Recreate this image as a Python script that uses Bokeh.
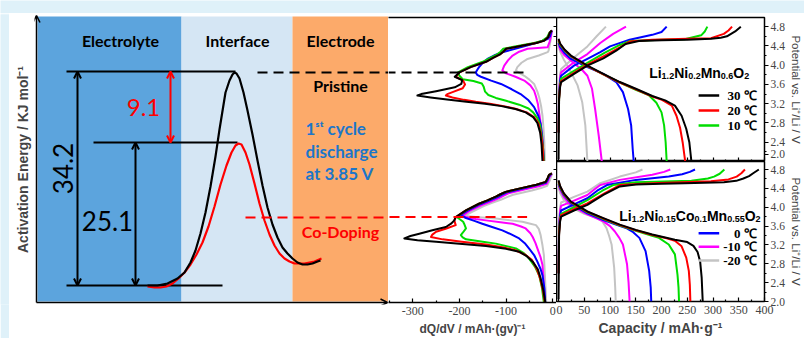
import math
from bokeh.plotting import figure
from bokeh.models import (Range1d, LinearAxis, FixedTicker, Arrow, OpenHead,
                          CustomJSTickFormatter, PrintfTickFormatter)
from bokeh.layouts import row, column
from bokeh.core.properties import value
from bokeh.embed import file_html
from bokeh.resources import INLINE

# ============================ DATA ============================
temps = ["30 ℃", "20 ℃", "10 ℃", "0 ℃", "-10 ℃", "-20 ℃"]
colors = ["#000000", "#ff0000", "#00dd00", "#0000ff", "#ff00ff", "#c4c4c4"]

# ---- schematic (diagram units: reaction coordinate u, drawn energy v) ----
band_names = ["Electrolyte", "Interface", "Electrode"]
band_left = [3, 147, 258]
band_right = [147, 258, 354]
band_colors = ["#5ca4dd", "#d5e6f4", "#fcaa6a"]
band_label_u = [86, 203, 306]

level_u0 = [32, 32, 59]
level_u1 = [188, 201, 203]
level_v = [19, 233, 162]          # initial state, pristine TS, co-doped TS

barrier_labels = ["34.2", "25.1", "9.1"]
barrier_u = [43, 101, 136]
barrier_v0 = [19, 19, 162]
barrier_v1 = [233, 162, 233]

ts_black_u = [113, 123, 133, 143, 150, 156, 161, 166, 171, 176, 181, 185, 191, 195, 198, 200, 202,
              205, 209, 213, 218, 223, 228, 233, 238, 243, 248, 253, 258, 263, 268, 273, 278, 283, 286]
ts_black_v = [19, 19, 21, 26, 32, 42, 54, 71, 92, 118, 148, 175, 212, 224, 230, 232, 231,
              226, 212, 194, 170, 144, 119, 97, 80, 67, 57, 51, 46, 42, 40, 40, 41, 43, 44]
ts_red_u = [113, 120, 126, 132, 138, 144, 150, 156, 162, 168, 174, 180, 186, 192, 197, 201, 204,
            207, 211, 215, 220, 225, 230, 235, 240, 245, 250, 255, 260, 265, 270, 275, 280, 287]
ts_red_v = [18, 17, 17, 18, 21, 26, 32, 40, 50, 62, 78, 98, 120, 139, 152, 159, 161,
            160, 152, 140, 121, 101, 84, 70, 59, 51, 46, 43, 41, 41, 41, 42, 43, 46]

# ---- dQ/dV, 1st cycle discharge (potential V, dQ/dV) : 30,20,10,0,-10,-20 C ----
prist_dq_V = [
    [4.72, 4.68, 4.58, 4.51, 4.46, 4.42, 4.34, 4.28, 4.23, 4.15, 4.07, 3.96, 3.85, 3.76, 3.69, 3.61, 3.54,
     3.46, 3.40, 3.37, 3.33, 3.28, 3.24, 3.20, 3.15, 3.09, 3.02, 2.92, 2.80, 2.60, 2.35, 2.00],
    [4.72, 4.68, 4.58, 4.51, 4.46, 4.42, 4.34, 4.28, 4.23, 4.15, 4.07, 3.96, 3.85, 3.76, 3.68, 3.60, 3.52,
     3.45, 3.40, 3.37, 3.33, 3.28, 3.24, 3.20, 3.15, 3.09, 3.02, 2.92, 2.80, 2.60, 2.35, 2.00],
    [4.72, 4.68, 4.58, 4.51, 4.46, 4.42, 4.34, 4.28, 4.23, 4.15, 4.07, 3.96, 3.85, 3.78, 3.71, 3.67, 3.62,
     3.55, 3.45, 3.38, 3.32, 3.26, 3.18, 3.10, 3.02, 2.90, 2.75, 2.55, 2.30, 2.00],
    [4.72, 4.66, 4.60, 4.54, 4.45, 4.37, 4.27, 4.20, 4.13, 4.05, 3.96, 3.90, 3.85, 3.80, 3.76, 3.68, 3.61,
     3.50, 3.40, 3.27, 3.13, 2.95, 2.78, 2.55, 2.30, 2.00],
    [4.72, 4.60, 4.48, 4.40, 4.37, 4.34, 4.28, 4.20, 4.10, 3.99, 3.89, 3.83, 3.76, 3.68, 3.58, 3.47, 3.35,
     3.20, 3.00, 2.80, 2.55, 2.30, 2.00],
    [4.72, 4.55, 4.40, 4.30, 4.27, 4.20, 4.13, 4.05, 3.96, 3.89, 3.84, 3.78, 3.70, 3.61, 3.45, 3.33, 3.15,
     2.95, 2.70, 2.40, 2.00],
]
prist_dq = [
    [-2, -6, -10, -18, -35, -58, -100, -106, -112, -128, -143, -176, -200, -210, -194, -196, -210,
     -250, -282, -290, -262, -222, -185, -145, -110, -80, -58, -42, -33, -27, -24, -22],
    [-2, -6, -10, -18, -35, -58, -100, -106, -112, -128, -143, -176, -200, -208, -192, -188, -193,
     -212, -226, -229, -215, -190, -165, -135, -105, -78, -56, -40, -31, -26, -22, -20],
    [-2, -7, -12, -22, -40, -64, -106, -112, -118, -134, -150, -182, -203, -200, -193, -170, -152,
     -148, -145, -138, -122, -100, -72, -52, -42, -33, -27, -24, -21, -19],
    [-2, -4, -6, -11, -40, -69, -108, -126, -140, -150, -158, -162, -165, -162, -154, -132, -111,
     -88, -69, -52, -40, -31, -26, -23, -21, -19],
    [-2, -4, -7, -10, -11, -54, -72, -86, -96, -104, -108, -100, -80, -61, -48, -40, -36,
     -32, -29, -26, -23, -21, -19],
    [-2, -4, -7, -9, -11, -30, -54, -67, -76, -79, -72, -61, -50, -40, -33, -29, -25,
     -22, -20, -18, -17],
]
codop_dq_V = [
    [4.72, 4.69, 4.62, 4.54, 4.48, 4.43, 4.33, 4.28, 4.23, 4.15, 4.08, 3.94, 3.80, 3.73, 3.66, 3.59, 3.52,
     3.45, 3.40, 3.35, 3.31, 3.28, 3.24, 3.19, 3.13, 3.07, 2.97, 2.86, 2.70, 2.51, 2.25, 2.00],
    [4.72, 4.69, 4.62, 4.54, 4.48, 4.43, 4.33, 4.28, 4.23, 4.15, 4.08, 3.94, 3.80, 3.73, 3.63, 3.56, 3.49,
     3.43, 3.38, 3.33, 3.28, 3.22, 3.16, 3.10, 3.00, 2.90, 2.70, 2.50, 2.25, 2.00],
    [4.72, 4.69, 4.62, 4.54, 4.48, 4.43, 4.33, 4.28, 4.23, 4.15, 4.08, 3.94, 3.80, 3.76, 3.70, 3.66, 3.56,
     3.48, 3.42, 3.37, 3.33, 3.28, 3.24, 3.14, 3.04, 2.93, 2.75, 2.57, 2.30, 2.00],
    [4.72, 4.65, 4.58, 4.52, 4.47, 4.42, 4.32, 4.27, 4.22, 4.14, 4.07, 3.93, 3.84, 3.78, 3.72, 3.66, 3.59,
     3.52, 3.44, 3.35, 3.25, 3.14, 3.00, 2.86, 2.70, 2.57, 2.30, 2.00],
    [4.72, 4.62, 4.56, 4.50, 4.45, 4.40, 4.30, 4.25, 4.20, 4.12, 4.05, 3.92, 3.83, 3.80, 3.76, 3.73, 3.69,
     3.66, 3.60, 3.56, 3.46, 3.38, 3.25, 3.14, 2.95, 2.79, 2.50, 2.20, 2.00],
    [4.70, 4.58, 4.52, 4.46, 4.41, 4.36, 4.27, 4.22, 4.17, 4.10, 4.03, 3.90, 3.83, 3.80, 3.77, 3.73, 3.70,
     3.66, 3.63, 3.55, 3.42, 3.20, 3.00, 2.60, 2.20, 2.00],
]
codop_dq = [
    [-2, -8, -11, -15, -35, -58, -101, -112, -122, -140, -158, -186, -208, -211, -218, -229, -258,
     -286, -305, -318, -290, -250, -200, -143, -100, -72, -55, -43, -32, -26, -20, -16],
    [-2, -8, -11, -15, -35, -58, -101, -112, -122, -140, -158, -186, -208, -211, -208, -228, -250,
     -258, -261, -236, -195, -143, -105, -80, -58, -45, -34, -27, -21, -17],
    [-2, -8, -11, -15, -35, -58, -101, -112, -122, -140, -158, -186, -206, -200, -192, -190, -186,
     -192, -197, -193, -186, -150, -122, -79, -62, -51, -38, -29, -23, -19],
    [-2, -8, -11, -15, -35, -55, -98, -108, -118, -137, -155, -183, -198, -186, -168, -151, -130,
     -108, -90, -72, -60, -51, -40, -33, -26, -22, -18, -16],
    [-2, -8, -10, -13, -30, -52, -95, -105, -115, -134, -152, -180, -193, -186, -165, -143, -112,
     -86, -68, -58, -48, -43, -37, -33, -26, -22, -20, -18, -17],
    [-2, -6, -9, -12, -25, -45, -85, -98, -110, -130, -148, -175, -188, -165, -122, -90, -65,
     -48, -36, -30, -26, -22, -19, -17, -15, -14],
]

# ---- charge / discharge profiles (capacity mAh/g, potential V) ----
prist_dis_cap = [
    [0, 3, 12, 24, 56, 87, 119, 150, 182, 207, 226, 239, 248, 254, 258],
    [0, 3, 12, 24, 56, 87, 119, 150, 182, 201, 220, 229, 236, 241, 246],
    [0, 3, 12, 24, 56, 87, 119, 150, 175, 190, 200, 205, 208, 210],
    [0, 3, 12, 24, 56, 87, 112, 125, 135, 141, 144, 146],
    [0, 3, 12, 30, 45, 56, 65, 71, 78, 84],
    [0, 3, 10, 21, 37, 46, 52, 56],
]
prist_dis_V = [
    [4.55, 4.45, 4.32, 4.20, 3.99, 3.82, 3.65, 3.51, 3.36, 3.27, 3.16, 2.95, 2.68, 2.40, 2.00],
    [4.53, 4.44, 4.31, 4.19, 3.98, 3.81, 3.64, 3.50, 3.35, 3.28, 3.16, 2.95, 2.70, 2.40, 2.00],
    [4.50, 4.42, 4.30, 4.18, 3.98, 3.81, 3.64, 3.49, 3.38, 3.22, 3.02, 2.75, 2.40, 2.00],
    [4.47, 4.38, 4.25, 4.13, 3.96, 3.82, 3.65, 3.44, 3.09, 2.75, 2.26, 2.00],
    [4.45, 4.33, 4.20, 4.04, 3.91, 3.78, 3.51, 3.09, 2.54, 2.00],
    [4.42, 4.28, 4.12, 3.92, 3.58, 3.23, 2.75, 2.00],
]
prist_chg_cap = [
    [0, 1, 3, 5, 30, 56, 87, 112, 130, 156, 200, 250, 296, 315, 327, 343, 354],
    [0, 1, 3, 5, 30, 56, 90, 119, 138, 182, 250, 296, 321, 330, 337],
    [0, 1, 3, 5, 30, 56, 90, 119, 138, 200, 245, 277, 284, 289],
    [0, 1, 3, 5, 30, 56, 81, 100, 138, 182, 200, 210],
    [0, 1, 3, 5, 30, 56, 81, 106, 131],
    [0, 1, 3, 5, 30, 56, 74, 92],
]
prist_chg_V = [
    [2.05, 3.30, 3.55, 3.65, 3.82, 3.99, 4.14, 4.30, 4.44, 4.50, 4.52, 4.53, 4.55, 4.57, 4.60, 4.70, 4.80],
    [2.60, 3.30, 3.57, 3.67, 3.84, 4.01, 4.20, 4.37, 4.49, 4.53, 4.55, 4.56, 4.65, 4.72, 4.80],
    [2.60, 3.30, 3.60, 3.72, 3.88, 4.05, 4.26, 4.42, 4.50, 4.53, 4.54, 4.62, 4.70, 4.80],
    [2.60, 3.35, 3.68, 3.78, 3.99, 4.13, 4.27, 4.39, 4.53, 4.63, 4.69, 4.80],
    [2.60, 3.40, 3.75, 3.85, 4.06, 4.23, 4.46, 4.65, 4.80],
    [2.60, 3.45, 3.82, 3.92, 4.16, 4.39, 4.60, 4.80],
]
codop_dis_cap = [
    [0, 3, 10, 24, 56, 87, 119, 150, 182, 226, 250, 262, 270, 275, 278, 280],
    [0, 3, 10, 24, 56, 87, 119, 150, 182, 210, 226, 239, 248, 253, 255, 256],
    [0, 3, 10, 24, 56, 87, 119, 150, 180, 195, 214, 226, 231, 233, 234],
    [0, 3, 10, 24, 56, 87, 110, 131, 145, 157, 169, 176, 179, 180],
    [0, 3, 10, 24, 56, 87, 100, 109, 118, 125, 133, 136, 138],
    [0, 3, 10, 24, 50, 75, 85, 93, 98, 103, 108, 110, 111],
]
codop_dis_V = [
    [4.57, 4.45, 4.30, 4.12, 3.91, 3.77, 3.63, 3.52, 3.42, 3.31, 3.26, 3.18, 3.05, 2.85, 2.50, 2.00],
    [4.55, 4.44, 4.29, 4.11, 3.90, 3.76, 3.62, 3.51, 3.41, 3.34, 3.29, 3.17, 2.93, 2.65, 2.35, 2.00],
    [4.53, 4.42, 4.28, 4.10, 3.89, 3.75, 3.61, 3.50, 3.40, 3.35, 3.21, 3.00, 2.57, 2.30, 2.00],
    [4.50, 4.40, 4.26, 4.08, 3.87, 3.73, 3.64, 3.56, 3.47, 3.35, 3.07, 2.65, 2.30, 2.00],
    [4.47, 4.37, 4.22, 4.04, 3.85, 3.70, 3.60, 3.49, 3.35, 3.21, 2.79, 2.40, 2.00],
    [4.42, 4.30, 4.16, 4.00, 3.86, 3.77, 3.70, 3.56, 3.40, 3.21, 2.72, 2.30, 2.00],
]
codop_chg_cap = [
    [0, 1, 3, 5, 30, 56, 87, 119, 150, 200, 245, 321, 345, 359, 370, 378, 389],
    [0, 1, 3, 5, 30, 56, 90, 119, 182, 296, 330, 346, 355, 362],
    [0, 1, 3, 5, 30, 56, 85, 106, 150, 258, 290, 302, 313, 322],
    [0, 1, 3, 5, 30, 56, 75, 94, 150, 214, 240, 255, 265],
    [0, 1, 3, 5, 30, 56, 70, 81, 119, 182, 205, 217],
    [0, 1, 3, 5, 30, 56, 70, 81, 119, 150, 163],
]
codop_chg_V = [
    [2.05, 3.40, 3.70, 3.80, 3.93, 4.05, 4.26, 4.44, 4.48, 4.50, 4.51, 4.53, 4.56, 4.61, 4.66, 4.72, 4.80],
    [2.60, 3.45, 3.73, 3.83, 3.96, 4.08, 4.30, 4.47, 4.51, 4.55, 4.59, 4.65, 4.72, 4.80],
    [2.60, 3.50, 3.76, 3.86, 4.00, 4.15, 4.35, 4.47, 4.53, 4.56, 4.61, 4.65, 4.71, 4.80],
    [2.60, 3.55, 3.83, 3.93, 4.06, 4.19, 4.35, 4.47, 4.58, 4.65, 4.70, 4.75, 4.80],
    [2.60, 3.60, 3.93, 4.03, 4.14, 4.26, 4.38, 4.47, 4.58, 4.69, 4.75, 4.80],
    [2.60, 3.70, 4.00, 4.10, 4.22, 4.33, 4.43, 4.51, 4.65, 4.74, 4.80],
]

# dashed marker of the 3.85 V discharge point
dash_potential = [3.85, 3.80]
dash_end_dq = [-62, -55]
dash_schem_v = [232, 87]
dash_schem_u0 = [223, 211]

# ticks
pot_ticks = [2.0, 2.4, 2.8, 3.2, 3.6, 4.0, 4.4, 4.8]
pot_labels = ["2.0", "2.4", "2.8", "3.2", "3.6", "4.0", "4.4", "4.8"]
pot_minor = [2.2, 2.6, 3.0, 3.4, 3.8, 4.2, 4.6]
dq_ticks = [-300, -200, -100, 0]
dq_minor = [-350, -250, -150, -50]
cap_ticks = [0, 50, 100, 150, 200, 250, 300, 350, 400]
cap_minor = [25, 75, 125, 175, 225, 275, 325, 375]

formula_top = [("Li", 0), ("1.2", 1), ("Ni", 0), ("0.2", 1), ("Mn", 0), ("0.6", 1), ("O", 0), ("2", 1)]
formula_bot = [("Li", 0), ("1.2", 1), ("Ni", 0), ("0.15", 1), ("Co", 0), ("0.1", 1),
               ("Mn", 0), ("0.55", 1), ("O", 0), ("2", 1)]

# ============================ STYLE / PLACEMENT ============================
OUTER_BG = "#dff1f9"
BLUE_TXT = "#1c76c9"
SCH_FONT = "Lato"
AX_FONT = "Liberation Sans"
TICK_FONT = "Liberation Sans Narrow"
BLANK = CustomJSTickFormatter(code="return ''")

LEG_TOP_ROWS = [3.37, 3.06, 2.75]
LEG_BOT_ROWS = [3.45, 3.16, 2.87]
LEG_X0, LEG_X1, LEG_TXT_X = 272, 312, 385
EDGE_LABEL_LIFT = 0.15   # lifts the lowest label of the upper panel clear of the panel seam


def base_fig(w, h, xr, yr, top=0, bottom=0, left=0, right=0):
    p = figure(width=w, height=h, x_range=xr, y_range=yr, output_backend="svg",
               toolbar_location=None, x_axis_location=None, y_axis_location=None,
               min_border_top=top, min_border_bottom=bottom,
               min_border_left=left, min_border_right=right)
    p.grid.grid_line_color = None
    p.outline_line_color = None
    p.background_fill_color = "white"
    p.border_fill_color = "white"
    return p


def tick_axis(ticks, minor, t_in=0, t_out=0, m_in=0, m_out=0, line=True, fmt=None,
              size="12px", font=TICK_FONT):
    ax = LinearAxis(ticker=FixedTicker(ticks=ticks, minor_ticks=minor),
                    major_tick_in=t_in, major_tick_out=t_out,
                    minor_tick_in=m_in, minor_tick_out=m_out,
                    major_tick_line_width=1.2, minor_tick_line_width=1.2,
                    axis_line_width=1.5)
    if not line:
        ax.axis_line_color = None
    if fmt is None:
        ax.formatter = BLANK
        ax.major_label_text_font_size = "0px"
        ax.major_label_standoff = 0
    else:
        ax.formatter = fmt
        ax.major_label_text_font = font
        ax.major_label_text_font_size = size
    return ax


ARIAL_BOLD_W = {"L": 611, "i": 278, "N": 722, "M": 833, "n": 611, "C": 722, "o": 611,
                "O": 778, ".": 278}


def draw_formula(p, parts, x, y, main=14, sub=9):
    texts, offs, sizes, yoffs = [], [], [], []
    off = 0.0
    for txt, is_sub in parts:
        sz = sub if is_sub else main
        texts.append(txt)
        offs.append(off)
        sizes.append(f"{sz}px")
        yoffs.append(3 if is_sub else 0)
        off += sum(ARIAL_BOLD_W.get(c, 556) for c in txt) * sz / 1000.0
    n = len(texts)
    p.text(x=[x] * n, y=[y] * n, text=texts, x_offset=offs, y_offset=yoffs,
           text_font_size=sizes, text_font=value(AX_FONT), text_font_style="bold",
           text_align="left", text_baseline="alphabetic", text_color="black")


def draw_legend(p, idx, rows):
    n = len(idx)
    p.segment(x0=[LEG_X0] * n, y0=rows, x1=[LEG_X1] * n, y1=rows,
              line_color=[colors[i] for i in idx], line_width=2.5)
    p.text(x=[LEG_TXT_X] * n, y=rows, text=[temps[i] for i in idx], text_font=value(TICK_FONT),
           text_font_size="13px", text_font_style="bold", text_align="right",
           text_baseline="middle", text_color="black")


# ============================ OUTER STRIPS ============================
top_strip = base_fig(804, 13, Range1d(0, 1), Range1d(0, 1))
top_strip.background_fill_color = OUTER_BG
top_strip.border_fill_color = OUTER_BG
left_strip = base_fig(9, 325, Range1d(0, 1), Range1d(0, 1))
left_strip.background_fill_color = OUTER_BG
left_strip.border_fill_color = OUTER_BG

# ============================ SCHEMATIC ============================
S = base_fig(379, 325, Range1d(0, 354), Range1d(0, 290), top=1, bottom=34, left=25, right=0)
S.quad(left=band_left, right=band_right, bottom=3, top=288, color=band_colors, line_color=None)
S.text(x=band_label_u, y=[264] * 3, text=band_names, text_font=value(SCH_FONT),
       text_font_size="16px", text_font_style="bold", text_align="center",
       text_baseline="middle", text_color="black")

S.segment(x0=level_u0, y0=level_v, x1=level_u1, y1=level_v, line_color="black", line_width=2)
S.line(ts_red_u, ts_red_v, line_color="#ff0000", line_width=2.2, line_join="round")
S.line(ts_black_u, ts_black_v, line_color="black", line_width=2.2, line_join="round")

arrow_cols = ["black", "black", "#ff0000"]
for u, v0, v1, c in zip(barrier_u, barrier_v0, barrier_v1, arrow_cols):
    S.add_layout(Arrow(start=OpenHead(size=7, line_color=c, line_width=2),
                       end=OpenHead(size=7, line_color=c, line_width=2),
                       x_start=u, y_start=v0, x_end=u, y_end=v1, line_color=c, line_width=2))

S.text(x=[28], y=[136], text=[barrier_labels[0]], angle=math.pi / 2, text_font=value(SCH_FONT),
       text_font_size="26px", text_align="center", text_baseline="middle", text_color="black")
S.text(x=[73], y=[84], text=[barrier_labels[1]], text_font=value(SCH_FONT),
       text_font_size="26px", text_align="center", text_baseline="middle", text_color="black")
S.text(x=[109], y=[197], text=[barrier_labels[2]], text_font=value(SCH_FONT),
       text_font_size="24px", text_align="center", text_baseline="middle", text_color="#ff0000")

# axes arrows
S.add_layout(Arrow(end=OpenHead(size=7, line_width=1.5), x_start=2, y_start=2, x_end=2, y_end=289,
                   line_width=1.5))
S.add_layout(Arrow(end=OpenHead(size=7, line_width=1.5), x_start=2, y_start=2, x_end=353, y_end=2,
                   line_width=1.5))

# state labels
S.text(x=[306], y=[219], text=["Pristine"], text_font=value(SCH_FONT), text_font_size="16px",
       text_font_style="bold", text_align="center", text_baseline="middle", text_color="black")
S.text(x=[306], y=[73], text=["Co-Doping"], text_font=value(SCH_FONT), text_font_size="16px",
       text_font_style="bold", text_align="center", text_baseline="middle", text_color="#ff0000")
S.text(x=[271, 271, 271], y=[176, 153, 131], text=["1ˢᵗ cycle", "discharge", "at 3.85 V"],
       text_font=value(SCH_FONT), text_font_size="17px", text_font_style="bold",
       text_align="left", text_baseline="middle", text_color=BLUE_TXT)

S.line([dash_schem_u0[0], 354], [dash_schem_v[0]] * 2, line_color="black", line_width=2,
       line_dash="10 6")
S.line([dash_schem_u0[1], 354], [dash_schem_v[1]] * 2, line_color="#ff0000", line_width=2,
       line_dash="10 6")

yax = LinearAxis(axis_label="Activation Energy / KJ mol⁻¹", axis_line_color=None,
                 major_tick_in=0, major_tick_out=0, minor_tick_in=0, minor_tick_out=0,
                 formatter=BLANK, major_label_text_font_size="0px", major_label_standoff=0,
                 axis_label_standoff=4, axis_label_text_font=AX_FONT,
                 axis_label_text_font_size="14px", axis_label_text_font_style="bold")
S.add_layout(yax, "left")

# ============================ dQ/dV PANELS ============================
xr_dq = Range1d(-352, 8)
MT = base_fig(168, 148, xr_dq, Range1d(2.0, 4.99), top=4)
MB = base_fig(168, 177, xr_dq, Range1d(2.0, 4.97), bottom=36)

MT.add_layout(tick_axis([], [], line=True), "above")
for P in (MT, MB):
    P.add_layout(tick_axis(pot_ticks, pot_minor, t_in=3, m_in=3, line=False), "right")

for i in reversed(range(6)):
    MT.line(prist_dq[i], prist_dq_V[i], line_color=colors[i], line_width=2, line_join="round")
    MB.line(codop_dq[i], codop_dq_V[i], line_color=colors[i], line_width=2, line_join="round")

MT.line([-352, dash_end_dq[0]], [dash_potential[0]] * 2, line_color="black", line_width=2,
        line_dash="10 6", line_dash_offset=3)
MB.line([-352, dash_end_dq[1]], [dash_potential[1]] * 2, line_color="#ff0000", line_width=2,
        line_dash="10 6", line_dash_offset=15)

dq_ax = tick_axis(dq_ticks, dq_minor, t_in=4, m_in=2, line=True,
                  fmt=PrintfTickFormatter(format="%d"))
dq_ax.major_label_standoff = 4
dq_ax.axis_label = "dQ/dV / mAh·(gv)⁻¹"
dq_ax.axis_label_text_font = AX_FONT
dq_ax.axis_label_text_font_size = "12px"
dq_ax.axis_label_text_font_style = "bold"
dq_ax.axis_label_standoff = 4
MB.add_layout(dq_ax, "below")

# ============================ CAPACITY PANELS ============================
xr_cap = Range1d(-4, 400)
RT = base_fig(248, 148, xr_cap, Range1d(2.0, 4.99), top=4, right=37)
RB = base_fig(248, 177, xr_cap, Range1d(2.0, 4.97), bottom=36, right=37)
for P in (RT, RB):
    P.outline_line_color = "black"
    P.outline_line_width = 1.5

# upper panel: its lowest label ("2.0") sits just above the seam, as in the original
rt_ticks = [pot_ticks[0] + EDGE_LABEL_LIFT] + pot_ticks[1:]
rt_over = {t: s for t, s in zip(rt_ticks, pot_labels)}
rb_over = {t: s for t, s in zip(pot_ticks, pot_labels)}
for P, ticks, minor, ovr in ((RT, rt_ticks, [pot_ticks[0]] + pot_minor, rt_over),
                             (RB, pot_ticks, pot_minor, rb_over)):
    ax = tick_axis(ticks, minor, t_out=4, m_out=2, line=False,
                   fmt=PrintfTickFormatter(format="%.1f"), size="11.5px")
    ax.major_label_overrides = ovr
    ax.major_label_standoff = 2
    ax.axis_label = "Potential vs. Li⁺/Li / V"
    ax.axis_label_text_font = AX_FONT
    ax.axis_label_text_font_size = "11.5px"
    ax.axis_label_text_font_style = "normal"
    ax.axis_label_standoff = 2
    P.add_layout(ax, "right")

RT.add_layout(tick_axis(cap_ticks, cap_minor, t_in=4, m_in=2, line=False), "below")

cap_ax = tick_axis(cap_ticks, cap_minor, t_in=4, m_in=2, line=False,
                   fmt=PrintfTickFormatter(format="%d"))
cap_ax.major_label_standoff = 4
cap_ax.axis_label = "Capacity / mAh·g⁻¹"
cap_ax.axis_label_text_font = AX_FONT
cap_ax.axis_label_text_font_size = "14px"
cap_ax.axis_label_text_font_style = "bold"
cap_ax.axis_label_standoff = 3
RB.add_layout(cap_ax, "below")

for i in reversed(range(6)):
    RT.line(prist_chg_cap[i], prist_chg_V[i], line_color=colors[i], line_width=2, line_join="round")
    RT.line(prist_dis_cap[i], prist_dis_V[i], line_color=colors[i], line_width=2, line_join="round")
    RB.line(codop_chg_cap[i], codop_chg_V[i], line_color=colors[i], line_width=2, line_join="round")
    RB.line(codop_dis_cap[i], codop_dis_V[i], line_color=colors[i], line_width=2, line_join="round")

draw_legend(RT, [0, 1, 2], LEG_TOP_ROWS)
draw_legend(RB, [3, 4, 5], LEG_BOT_ROWS)

draw_formula(RT, formula_top, 176, 3.83)
draw_formula(RB, formula_bot, 118, 3.81)

# ============================ LAYOUT ============================
body = row(left_strip, S, column(MT, MB), column(RT, RB))
layout = column(top_strip, body)

open("out.html", "w").write(file_html(layout, INLINE))
